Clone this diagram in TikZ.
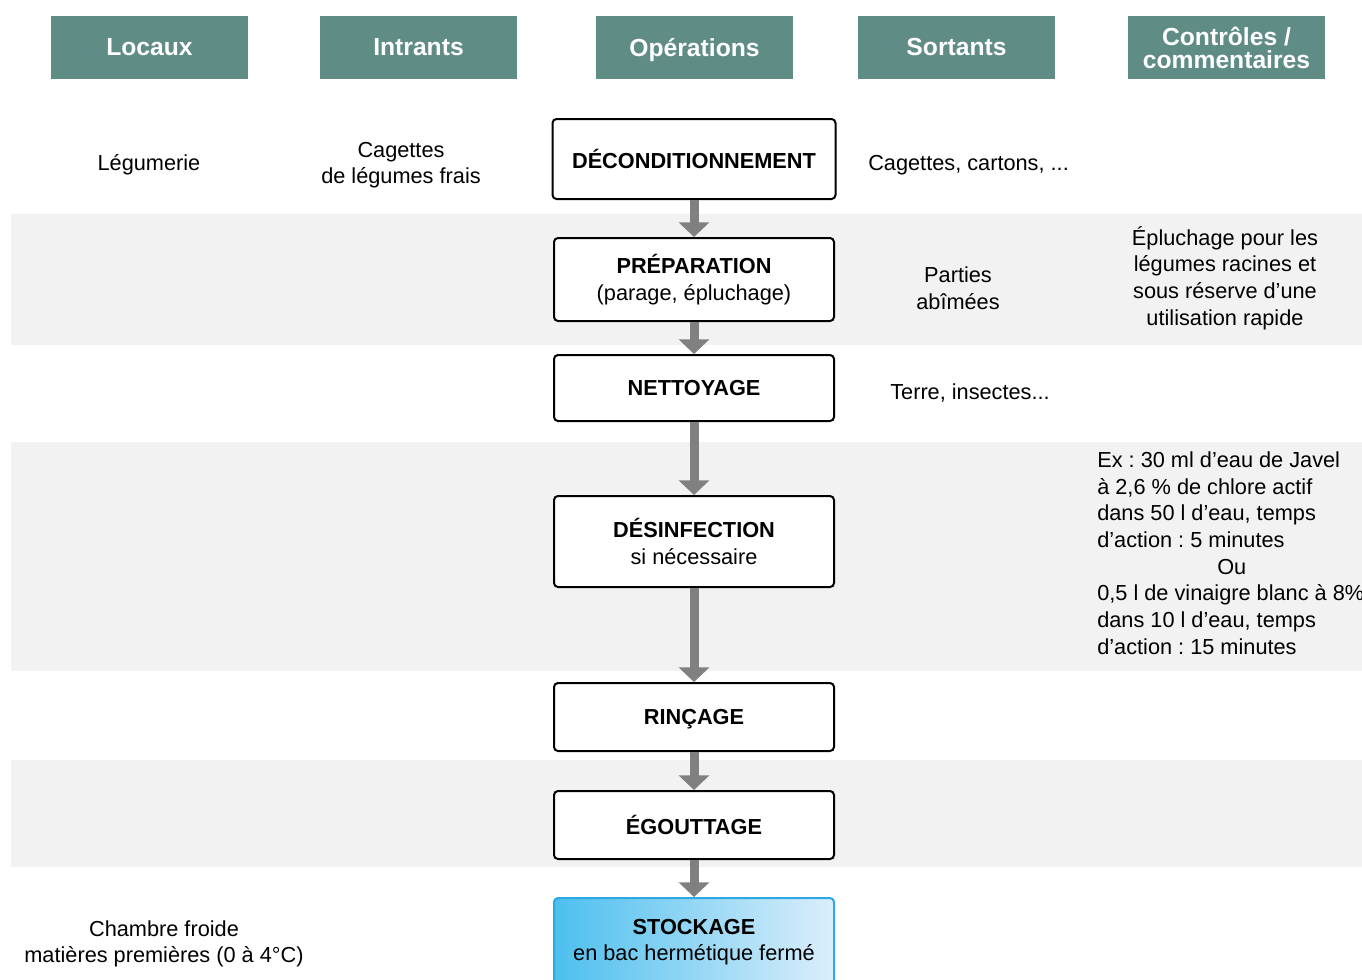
\documentclass[tikz,border=0pt]{standalone}
\usepackage{fontspec}
\setmainfont{Liberation Sans}
\usetikzlibrary{
  arrows.meta,
  positioning
}
\definecolor{hdTeal}{HTML}{5F8D85}
\definecolor{hdBand}{HTML}{F2F2F2}
\definecolor{hdArrow}{HTML}{808080}
\definecolor{hdStoreL}{HTML}{4DBFEE}
\definecolor{hdStoreR}{HTML}{DCEEFB}
\definecolor{hdStoreB}{HTML}{2EA8E0}
\frenchspacing
\tikzset{
  colhead/.style={
    fill=hdTeal, text=white, font=\fontsize{18.5}{17.3}\selectfont\bfseries,
    minimum width=147.75pt, minimum height=47.25pt, align=center, inner sep=0pt
  },
  stepbox/.style={
    draw, line width=1.5pt, rounded corners=3pt, fill=white, minimum width=210pt,
    align=center, font=\fontsize{16.3}{20}\selectfont
  },
  storebox/.style={stepbox, draw=hdStoreB, left color=hdStoreL, right color=hdStoreR},
  note/.style={font=\fontsize{16.3}{20}\selectfont, align=center, inner sep=0pt},
  flow/.style={-{Triangle[width=22.5pt, length=11pt]}, line width=6.75pt, hdArrow},
  band/.style={fill=hdBand}
}
\begin{document}
\begin{tikzpicture}[x=0.75pt, y=-0.75pt]
  \useasboundingbox (0,0) rectangle (1362,979);
  % bandes grises
  \fill[band] (11,214) rectangle (1362,345);
  \fill[band] (11,442) rectangle (1362,671);
  \fill[band] (11,760) rectangle (1362,867);

  % en-tetes
  \node[colhead] (hloc) at (149.5,47.5) {Locaux};
  \node[colhead] (hint) at (418.5,47.5) {Intrants};
  \node[colhead, text depth=0pt] (hope) at (694.5,47.5) {Opérations};
  \node[colhead] (hsor) at (956.5,47.5) {Sortants};
  \node[colhead] (hctl) at (1226.5,47.5) {Contrôles /\\commentaires};

  % etapes
  \node[stepbox, minimum width=212.25pt, minimum height=60pt] (deco) at (694,159) {\textbf{DÉCONDITIONNEMENT}};
  \node[stepbox, minimum height=62.25pt, below=27.75pt of deco] (prep) {\textbf{PRÉPARATION}\\(parage, épluchage)};
  \node[stepbox, minimum height=49.5pt, below=24pt of prep] (nett) {\textbf{NETTOYAGE}};
  \node[stepbox, minimum height=68.25pt, below=54.75pt of nett] (desi) {\textbf{DÉSINFECTION}\\si nécessaire};
  \node[stepbox, minimum height=51pt, text depth=0pt, below=70.5pt of desi] (rinc) {\textbf{RINÇAGE}};
  \node[stepbox, minimum height=51pt, below=28.5pt of rinc] (egou) {\textbf{ÉGOUTTAGE}};
  \node[storebox, minimum height=66pt, below=27.75pt of egou] (stoc) {\textbf{STOCKAGE}\\en bac hermétique fermé};

  \draw[flow] (deco) -- (prep);
  \draw[flow] (prep) -- (nett);
  \draw[flow] (nett) -- (desi);
  \draw[flow] (desi) -- (rinc);
  \draw[flow] (rinc) -- (egou);
  \draw[flow] (egou) -- (stoc);

  % colonnes laterales
  \node[note] (legu) at (149,165) {Légumerie};
  \node[note] (cage) at (401,165) {Cagettes\\de légumes frais};
  \node[note, anchor=west] (cart) at (868,165) {Cagettes, cartons, ...};
  \node[note] (part) at (958,288) {Parties\\abîmées};
  \node[note] (eplu) at (1225,278) {Épluchage pour les\\légumes racines et\\sous réserve d’une\\utilisation rapide};
  \node[note] (terr) at (970,393) {Terre, insectes...};
  \node[note, align=left, anchor=west] (jave) at (1097,553) {Ex : 30 ml d’eau de Javel\\à 2,6 \% de chlore actif\\dans 50 l d’eau, temps\\d’action : 5 minutes\\\hspace*{90pt}Ou\\0,5 l de vinaigre blanc à 8\%\\dans 10 l d’eau, temps\\d’action : 15 minutes};
  \node[note] (cham) at (164,944) {Chambre froide\\matières premières (0 à 4°C)};
\end{tikzpicture}
\end{document}
